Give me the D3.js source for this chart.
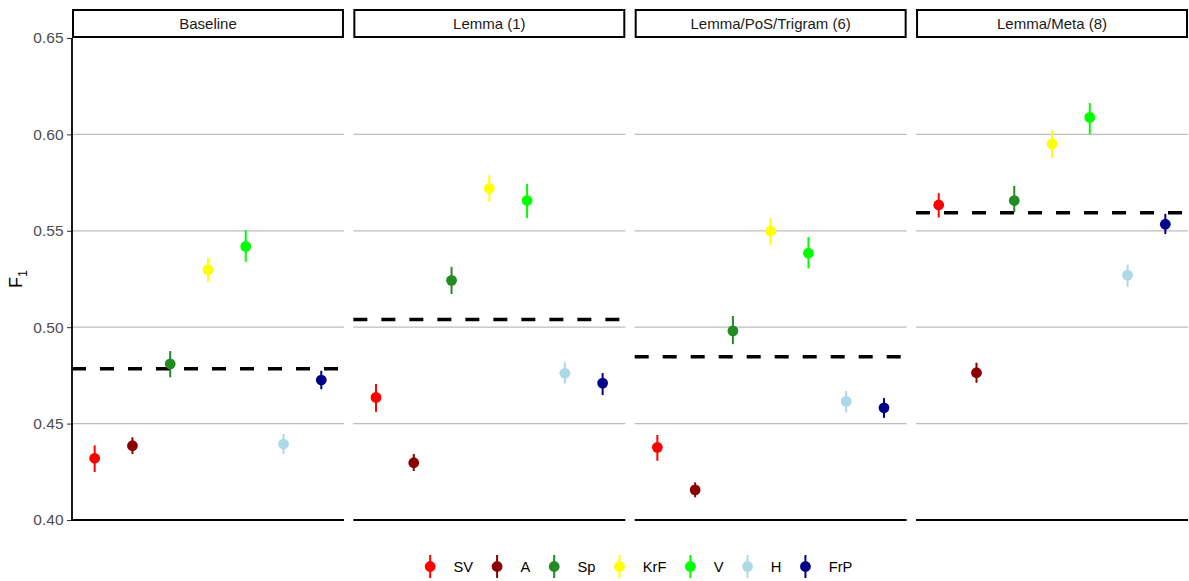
<!DOCTYPE html>
<html>
<head>
<meta charset="utf-8">
<script src="https://cdn.jsdelivr.net/npm/d3@7"></script>
<style>
  html, body { margin: 0; padding: 0; background: #fff; }
  svg { display: block; font-family: "Liberation Sans", Arial, Helvetica, sans-serif; }
</style>
</head>
<body>
<svg id="chart" width="1189" height="581"></svg>
<script>
// Feature sets (facets) and systems
const facets = ["Baseline", "Lemma (1)", "Lemma/PoS/Trigram (6)", "Lemma/Meta (8)"];
const systems = ["SV", "A", "Sp", "KrF", "V", "H", "FrP"];
const systemColors = ["#ff0000", "#8b0000", "#228b22", "#ffff00", "#00ff00", "#add8e6", "#00008b"];

// Mean F1 per system, one array per facet
const f1Baseline = [0.432, 0.4385, 0.481, 0.5298, 0.5419, 0.4394, 0.4726];
const f1Lemma    = [0.4636, 0.4297, 0.5243, 0.5720, 0.5657, 0.4761, 0.4710];
const f1Trigram  = [0.4377, 0.4156, 0.4981, 0.5498, 0.5384, 0.4615, 0.4582];
const f1Meta     = [0.5634, 0.4764, 0.5657, 0.5951, 0.6088, 0.5270, 0.5534];

// Interval bounds per system
const loBaseline = [0.4249, 0.4342, 0.4740, 0.5236, 0.5339, 0.4342, 0.4678];
const hiBaseline = [0.4387, 0.4429, 0.4876, 0.5362, 0.5503, 0.4446, 0.4774];
const loLemma    = [0.4561, 0.4254, 0.5172, 0.5652, 0.5566, 0.4707, 0.4648];
const hiLemma    = [0.4705, 0.4342, 0.5313, 0.5789, 0.5744, 0.4818, 0.4762];
const loTrigram  = [0.4307, 0.4118, 0.4912, 0.5427, 0.5305, 0.4558, 0.4530];
const hiTrigram  = [0.4441, 0.4195, 0.5058, 0.5566, 0.5467, 0.4669, 0.4632];
const loMeta     = [0.5569, 0.4712, 0.5597, 0.5878, 0.6001, 0.5209, 0.5483];
const hiMeta     = [0.5695, 0.4816, 0.5733, 0.6022, 0.6163, 0.5325, 0.5588];

// Dashed reference level per facet
const refLevel = [0.4784, 0.5040, 0.4847, 0.5593];

// Y axis ticks
const yTicks = [0.40, 0.45, 0.50, 0.55, 0.60, 0.65];
const yTickLabels = ["0.40", "0.45", "0.50", "0.55", "0.60", "0.65"];

const f1 = [f1Baseline, f1Lemma, f1Trigram, f1Meta];
const lo = [loBaseline, loLemma, loTrigram, loMeta];
const hi = [hiBaseline, hiLemma, hiTrigram, hiMeta];

const svg = d3.select("#chart");

const plotLeft = 72, plotRight = 1188, panelGap = 9.4;
const panelTop = 38, panelBottom = 520;
const stripTop = 10;
const panelW = (plotRight - plotLeft - panelGap * (facets.length - 1)) / facets.length;

const y = d3.scaleLinear().domain([0.40, 0.65]).range([panelBottom, panelTop]);
const x = d3.scalePoint().domain(systems).range([0, panelW]).padding(0.6);
const color = d3.scaleOrdinal().domain(systems).range(systemColors);

// Y axis (left of first panel)
const yAxis = d3.axisLeft(y).tickValues(yTicks)
  .tickFormat((d, i) => yTickLabels[i]).tickSize(5).tickPadding(3.5);
const yg = svg.append("g").attr("transform", `translate(${plotLeft},0)`).call(yAxis);
yg.select(".domain").remove();
yg.selectAll(".tick line").attr("stroke", "#333").attr("stroke-width", 1);
yg.selectAll(".tick text").attr("fill", "#4d4d4d").attr("font-size", 15.5)
  .attr("font-family", "Liberation Sans, Arial, sans-serif");

// Y title F1 with subscript
const yTitle = svg.append("text")
  .attr("transform", `translate(22,${(panelTop + panelBottom) / 2}) rotate(-90)`)
  .attr("text-anchor", "middle").attr("font-size", 18).attr("fill", "#000");
yTitle.append("tspan").text("F");
yTitle.append("tspan").attr("font-size", 12.5).attr("dy", 4.5).text("1");

facets.forEach((facet, fi) => {
  const x0 = plotLeft + fi * (panelW + panelGap);
  const g = svg.append("g").attr("transform", `translate(${x0},0)`);

  // Horizontal grid
  g.selectAll("line.grid").data(yTicks.filter(t => t > 0.40 && t < 0.65)).join("line")
    .attr("class", "grid")
    .attr("x1", 0).attr("x2", panelW)
    .attr("y1", d => y(d)).attr("y2", d => y(d))
    .attr("stroke", "#bdbdbd").attr("stroke-width", 1.2);

  // Bottom axis line
  g.append("line").attr("x1", 0).attr("x2", panelW)
    .attr("y1", y(0.40)).attr("y2", y(0.40))
    .attr("stroke", "#000").attr("stroke-width", 1.8);
  if (fi === 0) {
    g.append("line").attr("x1", 0).attr("x2", 0)
      .attr("y1", y(0.65)).attr("y2", y(0.40) + 0.9)
      .attr("stroke", "#000").attr("stroke-width", 1.8);
  }

  // Strip
  g.append("rect").attr("x", 1).attr("y", stripTop)
    .attr("width", panelW - 2).attr("height", panelTop - stripTop - 1)
    .attr("fill", "#fff").attr("stroke", "#000").attr("stroke-width", 2);
  g.append("text").attr("x", panelW / 2).attr("y", (stripTop + panelTop) / 2)
    .attr("dy", "0.35em").attr("text-anchor", "middle")
    .attr("font-size", 15).attr("fill", "#1a1a1a").text(facet);

  // Dashed reference line
  g.append("line").attr("x1", 0).attr("x2", panelW)
    .attr("y1", y(refLevel[fi])).attr("y2", y(refLevel[fi]))
    .attr("stroke", "#000").attr("stroke-width", 3.5)
    .attr("stroke-dasharray", "14,14");

  const rows = systems.map((s, i) => ({ s, v: f1[fi][i], lo: lo[fi][i], hi: hi[fi][i] }));

  // Intervals
  g.selectAll("line.err").data(rows).join("line")
    .attr("class", "err")
    .attr("x1", d => x(d.s)).attr("x2", d => x(d.s))
    .attr("y1", d => y(d.lo)).attr("y2", d => y(d.hi))
    .attr("stroke", d => color(d.s)).attr("stroke-width", 2);

  // Points
  g.selectAll("circle.pt").data(rows).join("circle")
    .attr("class", "pt")
    .attr("cx", d => x(d.s)).attr("cy", d => y(d.v)).attr("r", 5.4)
    .attr("fill", d => color(d.s));
});

// Legend
const legend = svg.append("g");
const legendY = 566.5;
const labelOffset = 23.3, itemGap = 24, keyHalf = 8.6;
let cursor = 0;
const items = [];
systems.forEach((s) => {
  const item = legend.append("g");
  item.append("line").attr("x1", 0).attr("x2", 0).attr("y1", -11.5).attr("y2", 11.5)
    .attr("stroke", color(s)).attr("stroke-width", 2);
  item.append("circle").attr("r", 5.4).attr("fill", color(s));
  const t = item.append("text").attr("x", labelOffset).attr("dy", "0.35em")
    .attr("font-size", 14.7).attr("fill", "#000").text(s);
  const tw = t.node().getComputedTextLength();
  items.push({ item, x: cursor });
  cursor += labelOffset + tw + itemGap;
});
const legendWidth = cursor - itemGap + keyHalf;
const legendStart = 637 - legendWidth / 2 + keyHalf;
items.forEach(({ item, x: ix }) => item.attr("transform", `translate(${legendStart + ix},${legendY})`));
</script>
</body>
</html>
